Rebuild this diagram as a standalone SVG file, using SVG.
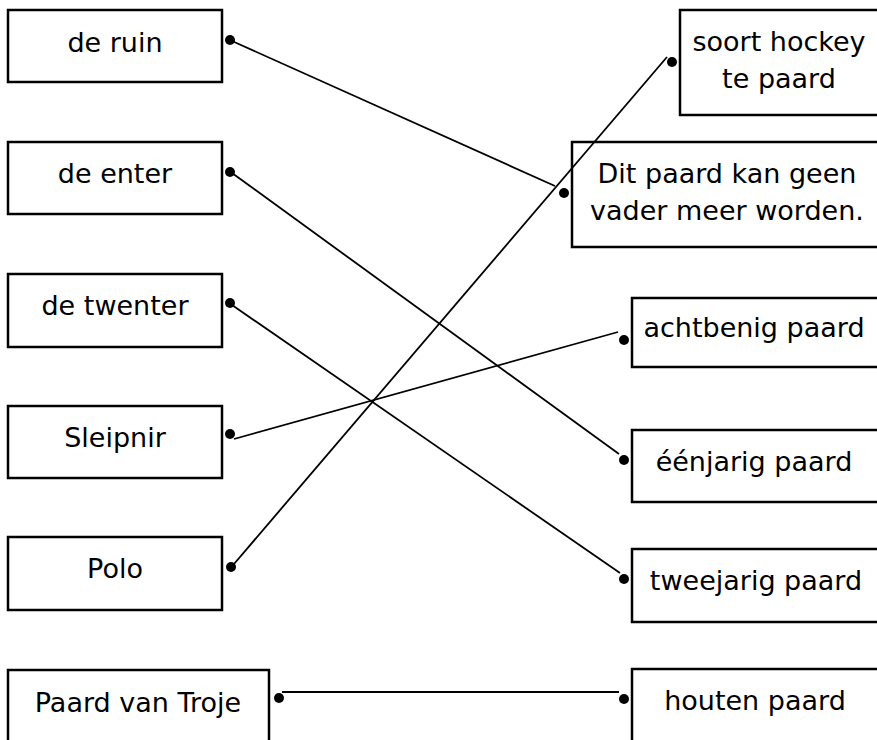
<svg xmlns="http://www.w3.org/2000/svg" width="877" height="740" viewBox="0 0 877 740">
<style>
.box{fill:#fff;stroke:#000;stroke-width:2.5}
.t{font-family:"DejaVu Sans",Verdana,sans-serif;font-size:27px;fill:#000;text-anchor:middle}
.ln{stroke:#000;stroke-width:1.8;fill:none}
.dot{fill:#000}
</style>
<rect width="877" height="740" fill="#fff"/>
<g id="n-ruin"><rect class="box" x="8" y="10" width="214" height="72"/><text class="t" x="115" y="52">de ruin</text></g>
<g id="n-enter"><rect class="box" x="8" y="142" width="214" height="72"/><text class="t" x="115" y="183">de enter</text></g>
<g id="n-twenter"><rect class="box" x="8" y="274" width="214" height="73"/><text class="t" x="115" y="315">de twenter</text></g>
<g id="n-sleipnir"><rect class="box" x="8" y="406" width="214" height="72"/><text class="t" x="115" y="447">Sleipnir</text></g>
<g id="n-polo"><rect class="box" x="8" y="537" width="214" height="73"/><text class="t" x="115" y="578">Polo</text></g>
<g id="n-troje"><rect class="box" x="8" y="670" width="261" height="90"/><text class="t" x="138" y="712">Paard van Troje</text></g>
<g id="n-hockey"><rect class="box" x="680" y="10" width="220" height="105"/><text class="t" x="779" y="51">soort hockey</text><text class="t" x="779" y="88">te paard</text></g>
<g id="n-vader"><rect class="box" x="572" y="142" width="330" height="105"/><text class="t" x="727" y="183">Dit paard kan geen</text><text class="t" x="727" y="220">vader meer worden.</text></g>
<g id="n-acht"><rect class="box" x="632" y="298" width="270" height="69"/><text class="t" x="754" y="337">achtbenig paard</text></g>
<g id="n-een"><rect class="box" x="632" y="430" width="270" height="72"/><text class="t" x="754" y="471">éénjarig paard</text></g>
<g id="n-twee"><rect class="box" x="632" y="549" width="270" height="73"/><text class="t" x="756" y="590">tweejarig paard</text></g>
<g id="n-houten"><rect class="box" x="632" y="669" width="270" height="90"/><text class="t" x="755" y="710">houten paard</text></g>
<g id="connectors">
<line class="ln" x1="232" y1="41" x2="555" y2="186"/>
<line class="ln" x1="232" y1="173" x2="619" y2="454"/>
<line class="ln" x1="232" y1="305" x2="620" y2="573"/>
<line class="ln" x1="234" y1="439" x2="618" y2="332"/>
<line class="ln" x1="234" y1="564" x2="667" y2="57"/>
<line class="ln" x1="282" y1="692" x2="619" y2="692"/>
<circle class="dot" cx="230" cy="40" r="5"/>
<circle class="dot" cx="230" cy="172" r="5"/>
<circle class="dot" cx="230" cy="303" r="5"/>
<circle class="dot" cx="230" cy="434" r="5"/>
<circle class="dot" cx="231" cy="567" r="5"/>
<circle class="dot" cx="279" cy="698" r="5"/>
<circle class="dot" cx="672" cy="62" r="5"/>
<circle class="dot" cx="564" cy="193" r="5"/>
<circle class="dot" cx="624" cy="340" r="5"/>
<circle class="dot" cx="624" cy="460" r="5"/>
<circle class="dot" cx="624" cy="579" r="5"/>
<circle class="dot" cx="624" cy="699" r="5"/>
</g>
</svg>
